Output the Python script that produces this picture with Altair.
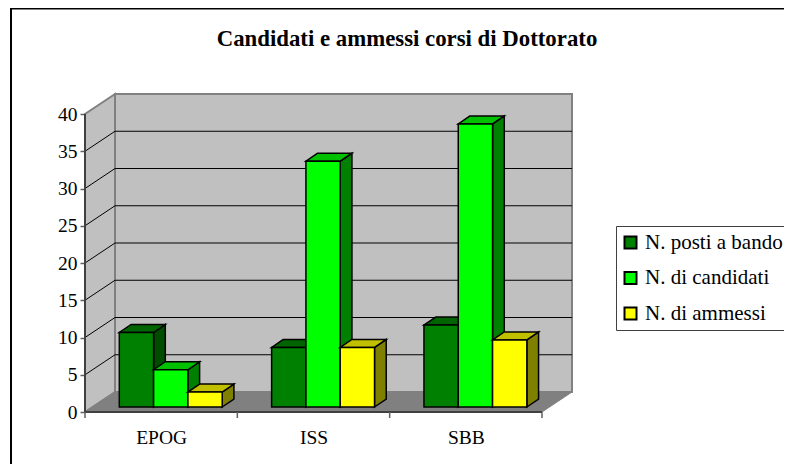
import json
import altair as alt
import pandas as pd

CATEGORIES = ["EPOG", "ISS", "SBB"]
SERIES = ["N. posti a bando", "N. di candidati", "N. di ammessi"]
VALUES = {
    "N. posti a bando": [10, 8, 11],
    "N. di candidati": [5, 33, 38],
    "N. di ammessi": [2, 8, 9],
}
TICKS = [0, 5, 10, 15, 20, 25, 30, 35, 40]
FRONT = ["#008000", "#00ff00", "#ffff00"]
TOP = ["#006400", "#00c000", "#c0c000"]
SIDE = ["#004d00", "#008000", "#808000"]
FONT = "Liberation Serif"

# scale: one category = 152.33 px, one y unit = 7.45 px; plot covers the page inside its margin
PX_X, PX_Y = 152.33, 7.45
W, H = 776, 456
X_DOMAIN = [(8 - 85) / PX_X, (8 + W - 85) / PX_X]
Y_DOMAIN = [(412 - (8 + H)) / PX_Y, (412 - 8) / PX_Y]
WALL_X, WALL_Y = 30 / PX_X, 20 / PX_Y        # depth of the box
BAR_X0, BAR_W = 34.3 / PX_X, 34.3 / PX_X     # first bar inset and bar width
BASE_Y = 5 / PX_Y                            # bar floor above the axis line
BAR_DX, BAR_DY = 11.7 / PX_X, 8 / PX_Y       # depth of a bar
N = len(CATEGORIES)

xs = alt.Scale(domain=X_DOMAIN, nice=False, zero=False)
ys = alt.Scale(domain=Y_DOMAIN, nice=False, zero=False)
X_AXIS = alt.Axis(
    values=[0.5, 1.5, 2.5], offset=-(8 + H - 412), domain=False, ticks=False, grid=False,
    labelExpr=json.dumps(CATEGORIES) + "[floor(datum.value)]",
    labelFont=FONT, labelFontSize=19.5, labelColor="#000000", labelPadding=16,
    labelOverlap=False, labelFlush=False)
Y_AXIS = alt.Axis(
    values=TICKS, offset=-(85 - 8), domain=False, grid=False, tickSize=5,
    tickColor="#606060", tickWidth=1.5, labelFont=FONT, labelFontSize=19.5,
    labelColor="#000000", labelPadding=3, labelOverlap=False, labelFlush=False)
X = lambda f="x": alt.X(f"{f}:Q", scale=xs, axis=X_AXIS, title=None)
Y = lambda f="y": alt.Y(f"{f}:Q", scale=ys, axis=Y_AXIS, title=None)
X2 = alt.X2("x2:Q")
Y2 = alt.Y2("y2:Q")


def vert_area(rows, fill, stroke, sw):
    return alt.Chart(pd.DataFrame(rows)).mark_area(
        fill=fill, stroke=stroke, strokeWidth=sw, orient="vertical", opacity=1
    ).encode(x=X(), y=Y(), y2=Y2)


def horiz_area(rows, fill, stroke, sw):
    return alt.Chart(pd.DataFrame(rows)).mark_area(
        fill=fill, stroke=stroke, strokeWidth=sw, orient="horizontal", opacity=1
    ).encode(y=Y(), x=X(), x2=X2)


layers = []

# left wall, back wall, floor
layers.append(vert_area(
    [{"x": 0, "y": 0, "y2": 40}, {"x": WALL_X, "y": WALL_Y, "y2": 40 + WALL_Y}],
    "#c0c0c0", "#808080", 2))
layers.append(alt.Chart(pd.DataFrame(
    [{"x": WALL_X, "x2": N + WALL_X, "y": WALL_Y, "y2": 40 + WALL_Y}]
)).mark_rect(fill="#c0c0c0", stroke="#808080", strokeWidth=2).encode(x=X(), x2=X2, y=Y(), y2=Y2))
layers.append(horiz_area(
    [{"y": 0, "x": 0, "x2": N}, {"y": WALL_Y, "x": WALL_X, "x2": N + WALL_X}],
    "#808080", "#808080", 1))

# gridlines on the back wall and the left wall
grid = [t for t in TICKS if 0 < t < 40]
layers.append(alt.Chart(pd.DataFrame(
    [{"x": WALL_X, "x2": N + WALL_X, "y": t + WALL_Y} for t in grid]
)).mark_rule(color="#000000", strokeWidth=1).encode(x=X(), x2=X2, y=Y()))
side_rows = []
for t in grid:
    side_rows += [{"t": t, "x": 0, "y": t}, {"t": t, "x": WALL_X, "y": t + WALL_Y}]
layers.append(alt.Chart(pd.DataFrame(side_rows)).mark_line(color="#000000", strokeWidth=1).encode(
    x=X(), y=Y(), detail="t:N"))

# bars: painted left to right, side, top, then front
for c in range(N):
    for s, name in enumerate(SERIES):
        v = VALUES[name][c]
        x0 = c + BAR_X0 + s * BAR_W
        x1 = x0 + BAR_W
        b = BASE_Y
        layers.append(vert_area(
            [{"x": x1, "y": b, "y2": b + v},
             {"x": x1 + BAR_DX, "y": b + BAR_DY, "y2": b + v + BAR_DY}],
            SIDE[s], "#000000", 1.5))
        layers.append(horiz_area(
            [{"y": b + v, "x": x0, "x2": x1},
             {"y": b + v + BAR_DY, "x": x0 + BAR_DX, "x2": x1 + BAR_DX}],
            TOP[s], "#000000", 1.5))
        layers.append(alt.Chart(pd.DataFrame(
            [{"x": x0, "x2": x1, "y": b, "y2": b + v, "series": name}]
        )).mark_rect(stroke="#000000", strokeWidth=1.5, opacity=1).encode(
            x=X(), x2=X2, y=Y(), y2=Y2,
            color=alt.Color("series:N", scale=alt.Scale(domain=SERIES, range=FRONT),
                            sort=SERIES, legend=alt.Legend(
                orient="none", legendX=616 - 8, legendY=226 - 8, title=None,
                strokeColor="#404040", fillColor="#ffffff", padding=6,
                symbolType="square", symbolSize=144, symbolStrokeColor="#000000",
                symbolStrokeWidth=2, symbolOpacity=1, symbolOffset=-2,
                labelFont=FONT, labelFontSize=21, labelColor="#000000",
                labelOffset=4, rowPadding=13.5, labelLimit=300)),
        ))

# front axis lines and tick marks
layers.append(alt.Chart(pd.DataFrame([{"x": 0, "x2": N, "y": 0}])).mark_rule(
    color="#404040", strokeWidth=2).encode(x=X(), x2=X2, y=Y()))
layers.append(alt.Chart(pd.DataFrame([{"x": 0, "y": 0, "y2": 40}])).mark_rule(
    color="#404040", strokeWidth=2).encode(x=X(), y=Y(), y2=Y2))
layers.append(alt.Chart(pd.DataFrame(
    [{"x": i, "y": 0, "y2": -6 / PX_Y} for i in range(N + 1)]
)).mark_rule(color="#606060", strokeWidth=1.5).encode(x=X(), y=Y(), y2=Y2))

# page frame (top and left edges only)
layers.append(alt.Chart(pd.DataFrame({"k": [0]})).mark_rule(color="#000000", strokeWidth=2).encode(
    x=alt.value(3), y=alt.value(0), y2=alt.value(H)))
layers.append(alt.Chart(pd.DataFrame({"k": [0]})).mark_rule(color="#000000", strokeWidth=2).encode(
    y=alt.value(0.5), x=alt.value(2), x2=alt.value(W)))

chart = alt.layer(*layers).properties(
    width=W, height=H,
    padding=0,
    autosize=alt.AutoSizeParams(type="none"),
    title=alt.TitleParams(
        "Candidati e ammessi corsi di Dottorato",
        font=FONT, fontSize=22.8, fontWeight="bold", color="#000000",
        anchor="middle", dx=11, offset=-62, baseline="alphabetic"),
).configure_view(stroke=None)

chart.save("out.html", embed_options={"renderer": "svg", "actions": False})
